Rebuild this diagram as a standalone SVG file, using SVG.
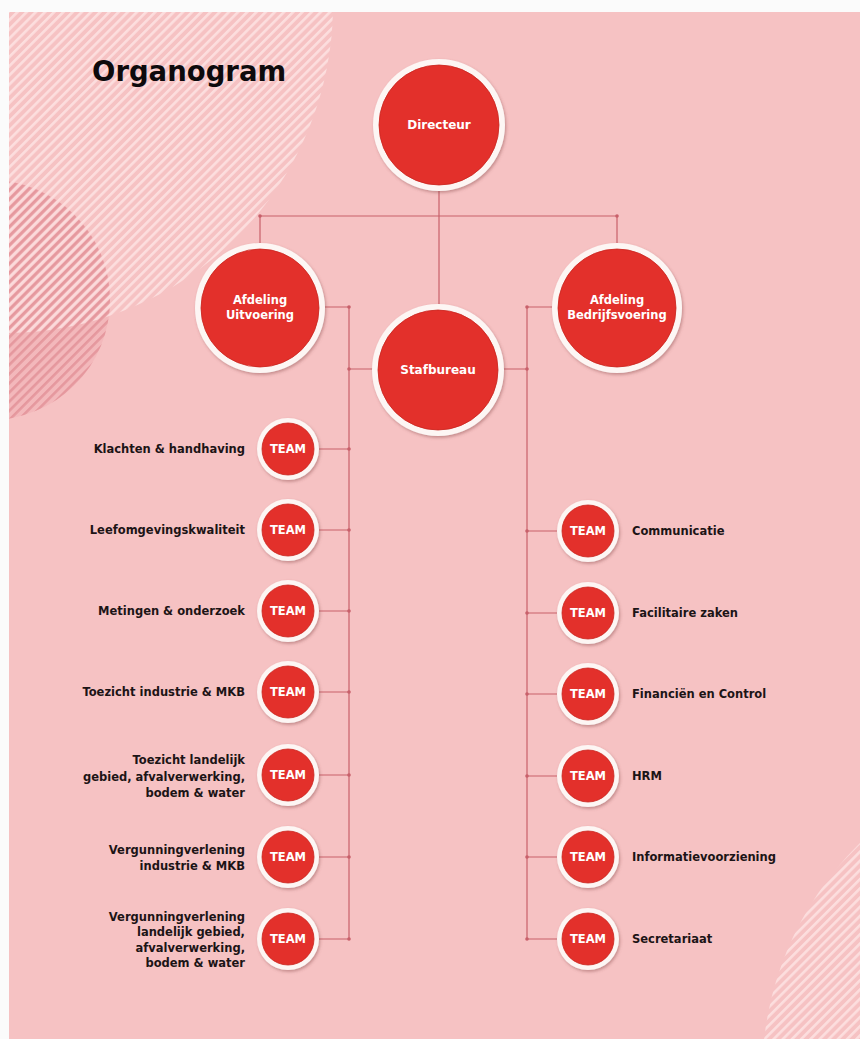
<svg xmlns="http://www.w3.org/2000/svg" width="860" height="1039" viewBox="0 0 860 1039">
  <style>
    .conn { stroke: #c8606a; stroke-width: 1.2; fill: none; }
    .dot { fill: #c8606a; }
    .ring { fill: #fdf6f4; filter: url(#shadow); }
    .core { fill: #e3302b; stroke: #c9261f; stroke-width: 0.8; }
    .in { font-family: "DejaVu Sans", Verdana, sans-serif; font-weight: bold; fill: #ffffff; text-anchor: middle; }
    .lbl { font-family: "DejaVu Sans", Verdana, sans-serif; font-weight: bold; font-size: 11.5px; fill: #1c1416; }
    .l { text-anchor: end; }
    .r { text-anchor: start; }
  </style>
  <defs>
    <pattern id="lightStripes" patternUnits="userSpaceOnUse" width="6.5" height="6.5" patternTransform="rotate(45)">
      <rect x="0" y="0" width="2.6" height="6.5" fill="#fde6e6" fill-opacity="0.75"/>
    </pattern>
    <pattern id="redStripes" patternUnits="userSpaceOnUse" width="6.5" height="6.5" patternTransform="rotate(45) translate(3.2 0)">
      <rect x="0" y="0" width="2.6" height="6.5" fill="#e08a91" fill-opacity="0.7"/>
    </pattern>
    <clipPath id="page">
      <rect x="9" y="12" width="851" height="1027"/>
    </clipPath>
    <filter id="shadow" x="-20%" y="-20%" width="140%" height="140%">
      <feDropShadow dx="1.2" dy="1.8" stdDeviation="1.4" flood-color="#8a4a4a" flood-opacity="0.45"/>
    </filter>
  </defs>

  <!-- page -->
  <rect x="0" y="0" width="860" height="1039" fill="#fbfbfb"/>
  <rect x="9" y="12" width="851" height="1027" fill="#f6c2c3"/>

  <!-- decorative striped discs -->
  <g id="decoration" clip-path="url(#page)">
    <circle cx="-10" cy="300" r="120" fill="#f3b8bb"/>
    <circle cx="-10" cy="300" r="120" fill="url(#redStripes)"/>
    <circle cx="5" cy="5" r="328" fill="url(#lightStripes)"/>
    <circle cx="1088" cy="1076" r="326" fill="url(#lightStripes)"/>
  </g>

  <text x="92" y="81" font-family="'DejaVu Sans', Verdana, sans-serif" font-weight="bold" font-size="27.5" fill="#0d0a0c">Organogram</text>

  <!-- connectors -->
  <g id="connectors">
    <path class="conn" d="M439 190 V304 M260 216 H617 M260 216 V243 M617 216 V243"/>
    <path class="conn" d="M325 307 H349 V939 M349 369 H373"/>
    <path class="conn" d="M552 307 H527 V939 M527 369 H503"/>
    <path class="conn" d="M319 449 H349 M319 530 H349 M319 611 H349 M319 692 H349 M319 775 H349 M319 857 H349 M319 939 H349"/>
    <path class="conn" d="M527 531 H557 M527 613 H557 M527 694 H557 M527 776 H557 M527 857 H557 M527 939 H557"/>
    <g>
      <circle class="dot" cx="260" cy="216" r="1.8"/>
      <circle class="dot" cx="617" cy="216" r="1.8"/>
      <circle class="dot" cx="349" cy="307" r="1.8"/>
      <circle class="dot" cx="527" cy="307" r="1.8"/>
      <circle class="dot" cx="349" cy="369" r="1.8"/>
      <circle class="dot" cx="527" cy="369" r="1.8"/>
      <circle class="dot" cx="349" cy="449" r="1.8"/>
      <circle class="dot" cx="349" cy="530" r="1.8"/>
      <circle class="dot" cx="349" cy="611" r="1.8"/>
      <circle class="dot" cx="349" cy="692" r="1.8"/>
      <circle class="dot" cx="349" cy="775" r="1.8"/>
      <circle class="dot" cx="349" cy="857" r="1.8"/>
      <circle class="dot" cx="349" cy="939" r="1.8"/>
      <circle class="dot" cx="527" cy="531" r="1.8"/>
      <circle class="dot" cx="527" cy="613" r="1.8"/>
      <circle class="dot" cx="527" cy="694" r="1.8"/>
      <circle class="dot" cx="527" cy="776" r="1.8"/>
      <circle class="dot" cx="527" cy="857" r="1.8"/>
      <circle class="dot" cx="527" cy="939" r="1.8"/>
    </g>
  </g>

  <!-- management -->
  <g id="directeur">
    <circle class="ring" cx="439" cy="125" r="66"/>
    <circle class="core" cx="439" cy="125" r="60"/>
    <text class="in" x="439" y="129" font-size="12">Directeur</text>
  </g>
  <g id="afdeling-uitvoering">
    <circle class="ring" cx="260" cy="308" r="65"/>
    <circle class="core" cx="260" cy="308" r="59"/>
    <text class="in" x="260" y="304" font-size="11.5">Afdeling</text>
    <text class="in" x="260" y="319" font-size="11.5">Uitvoering</text>
  </g>
  <g id="afdeling-bedrijfsvoering">
    <circle class="ring" cx="617" cy="308" r="65"/>
    <circle class="core" cx="617" cy="308" r="59"/>
    <text class="in" x="617" y="304" font-size="11.5">Afdeling</text>
    <text class="in" x="617" y="319" font-size="11.5">Bedrijfsvoering</text>
  </g>
  <g id="stafbureau">
    <circle class="ring" cx="438" cy="370" r="66"/>
    <circle class="core" cx="438" cy="370" r="60"/>
    <text class="in" x="438" y="374" font-size="12">Stafbureau</text>
  </g>

  <!-- teams, Afdeling Uitvoering -->
  <g id="team-klachten">
    <circle class="ring" cx="288" cy="449" r="31"/>
    <circle class="core" cx="288" cy="449" r="26"/>
    <text class="in" x="288" y="453" font-size="11.5">TEAM</text>
    <text class="lbl l" x="245" y="453">Klachten &amp; handhaving</text>
  </g>
  <g id="team-leefomgeving">
    <circle class="ring" cx="288" cy="530" r="31"/>
    <circle class="core" cx="288" cy="530" r="26"/>
    <text class="in" x="288" y="534" font-size="11.5">TEAM</text>
    <text class="lbl l" x="245" y="534">Leefomgevingskwaliteit</text>
  </g>
  <g id="team-metingen">
    <circle class="ring" cx="288" cy="611" r="31"/>
    <circle class="core" cx="288" cy="611" r="26"/>
    <text class="in" x="288" y="615" font-size="11.5">TEAM</text>
    <text class="lbl l" x="245" y="615">Metingen &amp; onderzoek</text>
  </g>
  <g id="team-toezicht-industrie">
    <circle class="ring" cx="288" cy="692" r="31"/>
    <circle class="core" cx="288" cy="692" r="26"/>
    <text class="in" x="288" y="696" font-size="11.5">TEAM</text>
    <text class="lbl l" x="245" y="696">Toezicht industrie &amp; MKB</text>
  </g>
  <g id="team-toezicht-landelijk">
    <circle class="ring" cx="288" cy="775" r="31"/>
    <circle class="core" cx="288" cy="775" r="26"/>
    <text class="in" x="288" y="779" font-size="11.5">TEAM</text>
    <text class="lbl l" x="245" y="764">Toezicht landelijk</text>
    <text class="lbl l" x="245" y="780.5">gebied, afvalverwerking,</text>
    <text class="lbl l" x="245" y="797">bodem &amp; water</text>
  </g>
  <g id="team-vergunning-industrie">
    <circle class="ring" cx="288" cy="857" r="31"/>
    <circle class="core" cx="288" cy="857" r="26"/>
    <text class="in" x="288" y="861" font-size="11.5">TEAM</text>
    <text class="lbl l" x="245" y="854">Vergunningverlening</text>
    <text class="lbl l" x="245" y="870">industrie &amp; MKB</text>
  </g>
  <g id="team-vergunning-landelijk">
    <circle class="ring" cx="288" cy="939" r="31"/>
    <circle class="core" cx="288" cy="939" r="26"/>
    <text class="in" x="288" y="943" font-size="11.5">TEAM</text>
    <text class="lbl l" x="245" y="921">Vergunningverlening</text>
    <text class="lbl l" x="245" y="936.3">landelijk gebied,</text>
    <text class="lbl l" x="245" y="951.6">afvalverwerking,</text>
    <text class="lbl l" x="245" y="967">bodem &amp; water</text>
  </g>

  <!-- teams, Afdeling Bedrijfsvoering -->
  <g id="team-communicatie">
    <circle class="ring" cx="588" cy="531" r="31"/>
    <circle class="core" cx="588" cy="531" r="26"/>
    <text class="in" x="588" y="535" font-size="11.5">TEAM</text>
    <text class="lbl r" x="632" y="535">Communicatie</text>
  </g>
  <g id="team-facilitaire-zaken">
    <circle class="ring" cx="588" cy="613" r="31"/>
    <circle class="core" cx="588" cy="613" r="26"/>
    <text class="in" x="588" y="617" font-size="11.5">TEAM</text>
    <text class="lbl r" x="632" y="617">Facilitaire zaken</text>
  </g>
  <g id="team-financien">
    <circle class="ring" cx="588" cy="694" r="31"/>
    <circle class="core" cx="588" cy="694" r="26"/>
    <text class="in" x="588" y="698" font-size="11.5">TEAM</text>
    <text class="lbl r" x="632" y="698">Financiën en Control</text>
  </g>
  <g id="team-hrm">
    <circle class="ring" cx="588" cy="776" r="31"/>
    <circle class="core" cx="588" cy="776" r="26"/>
    <text class="in" x="588" y="780" font-size="11.5">TEAM</text>
    <text class="lbl r" x="632" y="780">HRM</text>
  </g>
  <g id="team-informatievoorziening">
    <circle class="ring" cx="588" cy="857" r="31"/>
    <circle class="core" cx="588" cy="857" r="26"/>
    <text class="in" x="588" y="861" font-size="11.5">TEAM</text>
    <text class="lbl r" x="632" y="861">Informatievoorziening</text>
  </g>
  <g id="team-secretariaat">
    <circle class="ring" cx="588" cy="939" r="31"/>
    <circle class="core" cx="588" cy="939" r="26"/>
    <text class="in" x="588" y="943" font-size="11.5">TEAM</text>
    <text class="lbl r" x="632" y="943">Secretariaat</text>
  </g>
</svg>
